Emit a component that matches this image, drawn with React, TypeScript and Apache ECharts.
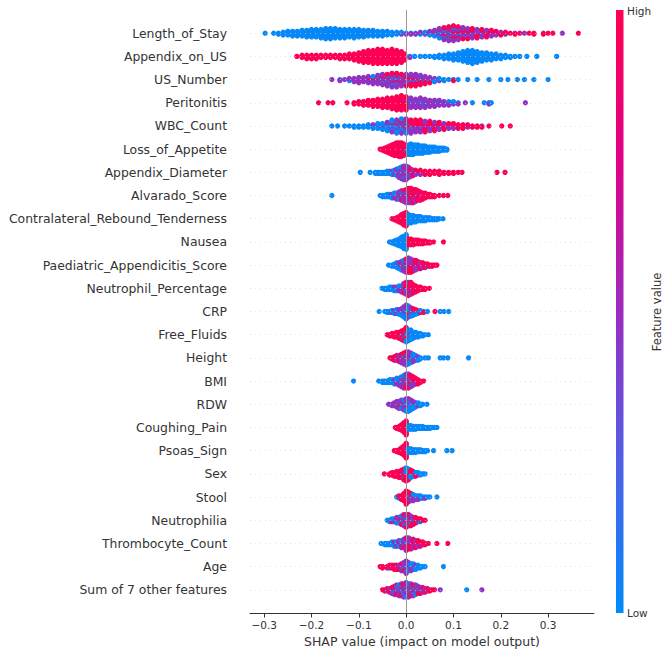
import React, { useEffect, useRef } from "react";
import * as echarts from "echarts";

// Each bin: [SHAP value, count of low-value points, count of mid-value points, count of high-value points]
type Bin = [number, number, number, number];

const FEATURES = [
  "Length_of_Stay", "Appendix_on_US", "US_Number", "Peritonitis", "WBC_Count",
  "Loss_of_Appetite", "Appendix_Diameter", "Alvarado_Score", "Contralateral_Rebound_Tenderness",
  "Nausea", "Paediatric_Appendicitis_Score", "Neutrophil_Percentage", "CRP", "Free_Fluids",
  "Height", "BMI", "RDW", "Coughing_Pain", "Psoas_Sign", "Sex", "Stool", "Neutrophilia",
  "Thrombocyte_Count", "Age", "Sum of 7 other features",
];

const X_TICKS = [-0.3, -0.2, -0.1, 0, 0.1, 0.2, 0.3];
const COLOR_LEVELS = [0.02, 0.47, 0.98];
const CMAP = ["#008bfb", "#5060e6", "#9b2cbf", "#e00086", "#ff0051"];

const lengthOfStay: Bin[] = [
  [-0.298, 1, 0, 0], [-0.28, 1, 0, 0], [-0.27, 2, 0, 0], [-0.26, 4, 0, 0], [-0.25, 5, 0, 0], [-0.24, 6, 0, 0],
  [-0.23, 6, 0, 0], [-0.22, 7, 0, 0], [-0.21, 8, 0, 0], [-0.2, 9, 0, 0], [-0.19, 9, 0, 0], [-0.18, 10, 0, 0],
  [-0.17, 12, 0, 0], [-0.16, 12, 0, 0], [-0.15, 11, 0, 0], [-0.14, 10, 0, 0], [-0.13, 10, 0, 0], [-0.12, 9, 0, 0],
  [-0.11, 10, 0, 0], [-0.1, 9, 0, 0], [-0.09, 8, 0, 0], [-0.08, 7, 0, 0], [-0.07, 7, 0, 0], [-0.06, 6, 0, 0],
  [-0.05, 6, 0, 0], [-0.04, 5, 0, 0], [-0.03, 4, 0, 0], [-0.02, 3, 0, 0], [-0.01, 2, 1, 0], [0.0, 1, 1, 0],
  [0.01, 1, 1, 0], [0.02, 1, 1, 0], [0.03, 1, 2, 0], [0.04, 2, 1, 0], [0.05, 2, 2, 1], [0.06, 3, 3, 1],
  [0.07, 4, 5, 2], [0.08, 4, 6, 4], [0.09, 4, 7, 5], [0.1, 3, 7, 7], [0.11, 3, 6, 6], [0.12, 2, 6, 5],
  [0.13, 2, 5, 5], [0.14, 1, 5, 5], [0.15, 1, 4, 5], [0.16, 1, 4, 4], [0.17, 0, 3, 5], [0.18, 0, 3, 4],
  [0.19, 0, 2, 3], [0.2, 0, 2, 2], [0.21, 0, 1, 2], [0.22, 0, 0, 1], [0.23, 0, 1, 1], [0.24, 0, 0, 1],
  [0.25, 0, 1, 0], [0.26, 0, 0, 1], [0.27, 0, 0, 2], [0.29, 0, 1, 1], [0.3, 0, 0, 1], [0.31, 0, 0, 1],
  [0.33, 0, 1, 0], [0.364, 0, 0, 1],
];

const appendixOnUS: Bin[] = [
  [-0.231, 0, 0, 1], [-0.22, 0, 0, 3], [-0.21, 0, 0, 4], [-0.2, 0, 0, 4], [-0.19, 0, 0, 4], [-0.18, 0, 0, 3],
  [-0.17, 0, 0, 3], [-0.16, 0, 0, 3], [-0.15, 0, 0, 3], [-0.14, 0, 0, 4], [-0.13, 0, 0, 4], [-0.12, 0, 0, 5],
  [-0.11, 0, 0, 6], [-0.1, 0, 0, 8], [-0.09, 0, 0, 10], [-0.08, 0, 0, 11], [-0.07, 0, 0, 12], [-0.06, 0, 0, 13],
  [-0.05, 0, 0, 13], [-0.04, 0, 0, 12], [-0.03, 0, 0, 13], [-0.02, 0, 0, 12], [-0.01, 0, 0, 10], [-0.003, 0, 0, 6],
  [0.008, 1, 1, 0], [0.018, 1, 0, 0], [0.03, 1, 0, 0], [0.04, 1, 0, 0], [0.05, 1, 0, 0], [0.06, 2, 0, 0],
  [0.07, 3, 0, 0], [0.08, 4, 0, 0], [0.09, 5, 0, 0], [0.1, 6, 0, 0], [0.11, 7, 0, 0], [0.12, 9, 0, 0],
  [0.13, 11, 0, 0], [0.14, 12, 0, 0], [0.15, 10, 0, 0], [0.16, 8, 0, 0], [0.17, 7, 0, 0], [0.18, 6, 0, 0],
  [0.19, 5, 0, 0], [0.2, 4, 0, 0], [0.21, 3, 0, 0], [0.22, 2, 0, 0], [0.23, 1, 0, 0], [0.24, 1, 0, 0],
  [0.255, 1, 0, 0], [0.276, 1, 0, 0], [0.318, 1, 0, 0],
];

const usNumber: Bin[] = [
  [-0.157, 0, 1, 0], [-0.14, 1, 1, 0], [-0.13, 0, 1, 0], [-0.12, 1, 2, 0], [-0.11, 1, 3, 0], [-0.1, 1, 4, 1],
  [-0.09, 1, 4, 0], [-0.08, 1, 5, 1], [-0.07, 2, 5, 1], [-0.06, 2, 6, 1], [-0.05, 2, 7, 2], [-0.04, 2, 7, 3],
  [-0.03, 3, 8, 3], [-0.02, 3, 7, 4], [-0.01, 2, 6, 4], [0.0, 2, 5, 5], [0.01, 1, 5, 6], [0.02, 1, 5, 6],
  [0.03, 1, 4, 5], [0.04, 1, 3, 4], [0.05, 2, 2, 2], [0.06, 3, 1, 0], [0.07, 2, 1, 0], [0.08, 2, 0, 0],
  [0.09, 1, 0, 0], [0.1, 1, 0, 1], [0.11, 1, 0, 0], [0.13, 1, 0, 0], [0.15, 1, 0, 0], [0.175, 1, 0, 0],
  [0.2, 1, 0, 0], [0.215, 1, 0, 0], [0.235, 1, 0, 0], [0.25, 1, 0, 0], [0.27, 1, 0, 0], [0.3, 1, 0, 0],
];

const peritonitis: Bin[] = [
  [-0.185, 0, 0, 1], [-0.165, 0, 0, 1], [-0.155, 0, 0, 1], [-0.125, 0, 0, 1], [-0.11, 0, 0, 2], [-0.1, 0, 0, 3],
  [-0.09, 0, 0, 4], [-0.08, 0, 0, 5], [-0.07, 0, 0, 6], [-0.06, 0, 0, 7], [-0.05, 0, 0, 8], [-0.04, 0, 0, 9],
  [-0.03, 0, 0, 10], [-0.02, 0, 0, 12], [-0.01, 0, 0, 13], [0.0, 0, 2, 10], [0.01, 1, 8, 0], [0.02, 0, 8, 0],
  [0.03, 1, 8, 0], [0.04, 1, 7, 0], [0.05, 0, 6, 0], [0.06, 1, 5, 0], [0.07, 1, 4, 0], [0.08, 1, 3, 0],
  [0.09, 2, 2, 0], [0.1, 2, 1, 0], [0.11, 1, 1, 0], [0.125, 0, 1, 0], [0.14, 1, 0, 0], [0.165, 1, 0, 0],
  [0.175, 1, 1, 0], [0.18, 1, 0, 0], [0.252, 0, 1, 0],
];

const wbcCount: Bin[] = [
  [-0.157, 1, 0, 0], [-0.145, 1, 0, 0], [-0.13, 1, 0, 0], [-0.12, 1, 0, 0], [-0.11, 2, 0, 0], [-0.1, 2, 0, 0],
  [-0.09, 2, 0, 0], [-0.08, 3, 0, 0], [-0.07, 3, 1, 0], [-0.06, 4, 1, 0], [-0.05, 5, 1, 0], [-0.04, 6, 2, 0],
  [-0.03, 7, 3, 1], [-0.02, 7, 4, 1], [-0.01, 6, 5, 2], [0.0, 4, 6, 3], [0.01, 1, 6, 5], [0.02, 0, 5, 6],
  [0.03, 0, 5, 6], [0.04, 0, 4, 6], [0.05, 0, 4, 5], [0.06, 0, 3, 5], [0.07, 0, 3, 4], [0.08, 0, 2, 4],
  [0.09, 0, 2, 3], [0.1, 0, 2, 3], [0.11, 0, 1, 3], [0.12, 0, 1, 3], [0.13, 0, 1, 2], [0.14, 0, 0, 2],
  [0.15, 0, 0, 2], [0.16, 0, 1, 1], [0.175, 0, 0, 1], [0.202, 0, 0, 1], [0.22, 0, 0, 1],
];

const lossOfAppetite: Bin[] = [
  [-0.055, 0, 0, 1], [-0.05, 0, 0, 2], [-0.045, 0, 0, 4], [-0.04, 0, 0, 6], [-0.035, 0, 0, 8], [-0.03, 0, 0, 10],
  [-0.025, 0, 0, 12], [-0.02, 0, 0, 13], [-0.015, 0, 0, 14], [-0.01, 0, 0, 14], [-0.005, 0, 0, 12], [0.0, 2, 0, 6],
  [0.005, 10, 0, 0], [0.01, 11, 0, 0], [0.015, 10, 0, 0], [0.02, 9, 0, 0], [0.025, 9, 0, 0], [0.03, 8, 0, 0],
  [0.035, 8, 0, 0], [0.04, 7, 0, 0], [0.045, 6, 0, 0], [0.05, 6, 0, 0], [0.055, 5, 0, 0], [0.06, 5, 0, 0],
  [0.065, 4, 0, 0], [0.07, 4, 0, 0], [0.075, 3, 0, 0], [0.08, 3, 0, 0], [0.086, 2, 0, 0],
];

const appendixDiameter: Bin[] = [
  [-0.097, 1, 0, 0], [-0.076, 1, 0, 0], [-0.065, 2, 0, 0], [-0.06, 2, 0, 0], [-0.055, 2, 0, 0], [-0.05, 2, 0, 0],
  [-0.045, 2, 0, 0], [-0.04, 3, 0, 0], [-0.035, 3, 0, 0], [-0.03, 3, 1, 0], [-0.025, 3, 2, 0], [-0.02, 3, 4, 0],
  [-0.015, 3, 6, 1], [-0.01, 3, 8, 1], [-0.005, 3, 9, 2], [0.0, 3, 9, 2], [0.005, 2, 7, 2], [0.01, 1, 5, 2],
  [0.015, 0, 3, 3], [0.02, 0, 2, 3], [0.03, 0, 2, 3], [0.04, 0, 1, 3], [0.05, 0, 1, 3], [0.06, 0, 0, 3],
  [0.07, 0, 1, 3], [0.08, 0, 0, 2], [0.09, 0, 0, 2], [0.1, 0, 0, 2], [0.11, 0, 0, 1], [0.118, 0, 0, 1],
  [0.192, 0, 0, 1], [0.209, 0, 0, 1],
];

const alvaradoScore: Bin[] = [
  [-0.157, 1, 0, 0], [-0.055, 1, 0, 0], [-0.05, 2, 0, 0], [-0.045, 2, 0, 0], [-0.04, 3, 0, 0], [-0.035, 3, 0, 0],
  [-0.03, 3, 1, 0], [-0.025, 3, 2, 0], [-0.02, 2, 3, 1], [-0.015, 2, 4, 1], [-0.01, 2, 5, 2], [-0.005, 2, 6, 2],
  [0.0, 2, 6, 4], [0.005, 1, 5, 7], [0.01, 0, 4, 9], [0.015, 0, 3, 9], [0.02, 0, 3, 8], [0.025, 0, 2, 7],
  [0.03, 0, 2, 6], [0.035, 0, 1, 5], [0.04, 0, 1, 4], [0.045, 0, 0, 3], [0.05, 0, 0, 3], [0.055, 0, 0, 2],
  [0.06, 0, 0, 2], [0.07, 0, 0, 1], [0.079, 0, 0, 1], [0.088, 0, 0, 1],
];

const contralateral: Bin[] = [
  [-0.03, 0, 0, 1], [-0.025, 0, 0, 2], [-0.02, 0, 0, 4], [-0.015, 0, 0, 6], [-0.01, 0, 0, 9], [-0.005, 0, 0, 12],
  [0.0, 0, 0, 14], [0.005, 9, 0, 0], [0.01, 8, 0, 0], [0.015, 7, 0, 0], [0.02, 6, 0, 0], [0.025, 5, 0, 0],
  [0.03, 5, 0, 0], [0.035, 4, 0, 0], [0.04, 4, 0, 0], [0.045, 3, 0, 0], [0.05, 3, 0, 0], [0.055, 2, 0, 0],
  [0.06, 2, 0, 0], [0.065, 2, 0, 0], [0.07, 1, 0, 0], [0.078, 1, 0, 0],
];

const nausea: Bin[] = [
  [-0.035, 1, 0, 0], [-0.03, 2, 0, 0], [-0.025, 4, 0, 0], [-0.02, 6, 0, 0], [-0.015, 8, 0, 0], [-0.01, 11, 0, 0],
  [-0.005, 14, 0, 0], [0.0, 17, 0, 0], [0.005, 0, 0, 7], [0.01, 0, 0, 7], [0.015, 0, 0, 6], [0.02, 0, 0, 5],
  [0.025, 0, 0, 5], [0.03, 0, 0, 4], [0.035, 0, 0, 4], [0.04, 0, 0, 3], [0.045, 0, 0, 2], [0.05, 0, 0, 2],
  [0.058, 0, 0, 1], [0.079, 0, 0, 1],
];

const pediatricScore: Bin[] = [
  [-0.037, 1, 0, 0], [-0.03, 2, 0, 0], [-0.025, 3, 0, 0], [-0.02, 4, 1, 0], [-0.015, 4, 2, 0], [-0.01, 4, 3, 1],
  [-0.005, 3, 5, 2], [0.0, 2, 7, 3], [0.005, 1, 7, 5], [0.01, 0, 6, 6], [0.015, 0, 5, 5], [0.02, 0, 4, 5],
  [0.025, 0, 3, 4], [0.03, 0, 2, 4], [0.035, 0, 2, 3], [0.04, 0, 1, 3], [0.045, 0, 1, 2], [0.05, 0, 0, 2],
  [0.055, 0, 0, 2], [0.06, 0, 0, 1], [0.065, 0, 0, 1],
];

const neutrophilPct: Bin[] = [
  [-0.051, 1, 0, 0], [-0.045, 2, 0, 0], [-0.04, 2, 0, 0], [-0.035, 3, 0, 0], [-0.03, 3, 0, 0], [-0.025, 3, 1, 0],
  [-0.02, 3, 1, 0], [-0.015, 3, 2, 0], [-0.01, 2, 3, 1], [-0.005, 2, 4, 3], [0.0, 1, 4, 6], [0.005, 0, 4, 8],
  [0.01, 0, 3, 8], [0.015, 0, 2, 6], [0.02, 0, 1, 5], [0.025, 0, 0, 4], [0.03, 0, 0, 3], [0.035, 0, 0, 2],
  [0.04, 0, 0, 2], [0.049, 0, 0, 1],
];

const crp: Bin[] = [
  [-0.057, 1, 0, 0], [-0.045, 1, 0, 0], [-0.04, 2, 0, 0], [-0.035, 2, 0, 0], [-0.03, 2, 1, 0], [-0.025, 3, 1, 0],
  [-0.02, 3, 2, 0], [-0.015, 4, 2, 0], [-0.01, 5, 3, 0], [-0.005, 7, 4, 1], [0.0, 9, 5, 2], [0.005, 7, 4, 2],
  [0.01, 5, 3, 2], [0.015, 4, 2, 2], [0.02, 3, 1, 2], [0.025, 2, 1, 1], [0.03, 2, 0, 1], [0.037, 1, 0, 1],
  [0.045, 1, 0, 0], [0.061, 0, 0, 1], [0.072, 1, 0, 0], [0.08, 1, 0, 0], [0.09, 1, 0, 0],
];

const freeFluids: Bin[] = [
  [-0.04, 0, 0, 1], [-0.035, 0, 0, 2], [-0.03, 0, 0, 3], [-0.025, 0, 0, 4], [-0.02, 0, 0, 5], [-0.015, 0, 0, 6],
  [-0.01, 1, 0, 7], [-0.005, 2, 0, 8], [0.0, 5, 0, 8], [0.005, 8, 0, 2], [0.01, 8, 0, 1], [0.015, 6, 0, 0],
  [0.02, 5, 0, 0], [0.025, 4, 0, 0], [0.03, 3, 0, 0], [0.035, 2, 0, 0], [0.04, 1, 0, 0], [0.047, 1, 0, 0],
];

const height: Bin[] = [
  [-0.034, 0, 0, 1], [-0.03, 0, 0, 2], [-0.025, 0, 1, 3], [-0.02, 0, 2, 3], [-0.015, 0, 3, 3], [-0.01, 1, 4, 3],
  [-0.005, 1, 6, 3], [0.0, 2, 7, 3], [0.005, 3, 6, 2], [0.01, 4, 4, 1], [0.015, 4, 3, 0], [0.02, 3, 2, 0],
  [0.025, 3, 1, 0], [0.03, 2, 0, 0], [0.04, 1, 0, 0], [0.047, 1, 0, 0], [0.072, 1, 0, 0], [0.079, 1, 0, 0],
  [0.088, 1, 0, 0], [0.132, 1, 0, 0],
];

const bmi: Bin[] = [
  [-0.111, 1, 0, 0], [-0.058, 1, 0, 0], [-0.05, 2, 0, 0], [-0.045, 2, 0, 0], [-0.04, 2, 0, 0], [-0.035, 3, 0, 0],
  [-0.03, 3, 0, 0], [-0.025, 3, 1, 0], [-0.02, 3, 2, 0], [-0.015, 3, 3, 0], [-0.01, 3, 4, 1], [-0.005, 3, 5, 2],
  [0.0, 3, 5, 3], [0.005, 2, 5, 4], [0.01, 1, 4, 4], [0.015, 0, 3, 4], [0.02, 0, 2, 3], [0.025, 0, 1, 3],
  [0.03, 0, 0, 2], [0.037, 0, 0, 1],
];

const rdw: Bin[] = [
  [-0.037, 0, 1, 0], [-0.03, 0, 2, 0], [-0.025, 0, 3, 0], [-0.02, 0, 4, 1], [-0.015, 1, 4, 1], [-0.01, 2, 4, 1],
  [-0.005, 3, 4, 1], [0.0, 5, 4, 1], [0.005, 6, 3, 1], [0.01, 6, 2, 0], [0.015, 4, 2, 0], [0.02, 3, 1, 0],
  [0.025, 2, 1, 0], [0.03, 2, 0, 0], [0.035, 1, 0, 0], [0.044, 1, 0, 0],
];

const coughingPain: Bin[] = [
  [-0.023, 0, 0, 1], [-0.02, 0, 0, 2], [-0.015, 0, 0, 4], [-0.01, 0, 0, 7], [-0.005, 0, 0, 11], [0.0, 0, 0, 16],
  [0.005, 5, 0, 0], [0.01, 5, 0, 0], [0.015, 4, 0, 0], [0.02, 4, 0, 0], [0.025, 3, 0, 0], [0.03, 3, 0, 0],
  [0.035, 3, 0, 0], [0.04, 2, 0, 0], [0.045, 2, 0, 0], [0.05, 2, 0, 0], [0.055, 1, 0, 0], [0.06, 1, 0, 0],
  [0.065, 1, 0, 0],
];

const psoasSign: Bin[] = [
  [-0.025, 0, 0, 1], [-0.02, 0, 0, 2], [-0.015, 0, 0, 4], [-0.01, 0, 0, 7], [-0.005, 0, 0, 11], [0.0, 1, 0, 16],
  [0.005, 5, 0, 0], [0.01, 5, 0, 0], [0.015, 4, 0, 0], [0.02, 4, 0, 0], [0.025, 3, 0, 0], [0.03, 3, 0, 0],
  [0.035, 2, 0, 0], [0.04, 2, 0, 0], [0.045, 1, 0, 0], [0.058, 1, 0, 0], [0.086, 1, 0, 0], [0.097, 1, 0, 0],
];

const sex: Bin[] = [
  [-0.046, 0, 0, 1], [-0.035, 0, 0, 2], [-0.03, 0, 0, 3], [-0.025, 0, 0, 4], [-0.02, 0, 0, 5], [-0.015, 0, 0, 6],
  [-0.01, 0, 0, 7], [-0.005, 2, 0, 8], [0.0, 6, 0, 6], [0.005, 5, 0, 5], [0.01, 3, 0, 4], [0.015, 2, 0, 3],
  [0.02, 2, 0, 2], [0.025, 2, 0, 1], [0.03, 2, 0, 0], [0.035, 1, 0, 0], [0.04, 1, 0, 0],
];

const stool: Bin[] = [
  [-0.02, 1, 0, 0], [-0.015, 1, 0, 2], [-0.01, 0, 0, 4], [-0.005, 0, 0, 7], [0.0, 0, 0, 12], [0.005, 1, 2, 6],
  [0.01, 1, 3, 3], [0.015, 2, 3, 1], [0.02, 2, 2, 0], [0.025, 2, 2, 0], [0.03, 2, 1, 0], [0.035, 2, 0, 0],
  [0.04, 1, 1, 0], [0.045, 1, 0, 0], [0.05, 1, 0, 0], [0.065, 1, 0, 0],
];

const neutrophilia: Bin[] = [
  [-0.04, 1, 0, 0], [-0.035, 2, 0, 0], [-0.03, 2, 0, 1], [-0.025, 2, 1, 0], [-0.02, 2, 2, 1], [-0.015, 2, 2, 1],
  [-0.01, 3, 2, 2], [-0.005, 3, 3, 3], [0.0, 3, 3, 4], [0.005, 2, 3, 4], [0.01, 2, 2, 4], [0.015, 1, 2, 3],
  [0.02, 1, 1, 3], [0.025, 0, 1, 2], [0.03, 1, 0, 2], [0.035, 0, 0, 1], [0.04, 0, 0, 1],
];

const thrombocyteCount: Bin[] = [
  [-0.053, 1, 0, 0], [-0.045, 2, 0, 0], [-0.04, 2, 0, 0], [-0.035, 2, 0, 0], [-0.03, 3, 0, 0], [-0.025, 3, 1, 0],
  [-0.02, 2, 2, 0], [-0.015, 2, 2, 1], [-0.01, 2, 3, 1], [-0.005, 1, 4, 2], [0.0, 1, 6, 3], [0.005, 0, 5, 4],
  [0.01, 0, 4, 4], [0.015, 0, 3, 4], [0.02, 0, 2, 4], [0.025, 0, 2, 3], [0.03, 0, 1, 3], [0.035, 0, 1, 2],
  [0.04, 0, 0, 2], [0.047, 0, 0, 1], [0.065, 0, 0, 1], [0.088, 0, 0, 1],
];

const age: Bin[] = [
  [-0.055, 0, 0, 1], [-0.05, 0, 0, 2], [-0.04, 0, 0, 2], [-0.035, 0, 1, 2], [-0.03, 0, 0, 3], [-0.025, 0, 1, 3],
  [-0.02, 0, 1, 3], [-0.015, 0, 2, 2], [-0.01, 1, 3, 2], [-0.005, 1, 4, 2], [0.0, 2, 7, 1], [0.005, 3, 4, 0],
  [0.01, 3, 3, 0], [0.015, 3, 2, 0], [0.02, 3, 1, 0], [0.025, 3, 0, 0], [0.03, 2, 0, 0], [0.035, 1, 0, 0],
  [0.04, 1, 0, 0], [0.079, 1, 0, 0],
];

const otherFeatures: Bin[] = [
  [-0.05, 0, 0, 1], [-0.045, 0, 0, 2], [-0.04, 0, 1, 2], [-0.035, 0, 2, 2], [-0.03, 1, 3, 2], [-0.025, 2, 4, 2],
  [-0.02, 2, 5, 2], [-0.015, 3, 5, 2], [-0.01, 3, 5, 3], [-0.005, 3, 6, 3], [0.0, 4, 6, 3], [0.005, 4, 5, 3],
  [0.01, 3, 5, 3], [0.015, 3, 4, 3], [0.02, 3, 4, 2], [0.025, 2, 3, 2], [0.03, 2, 2, 2], [0.035, 1, 2, 2],
  [0.04, 1, 1, 2], [0.045, 0, 1, 2], [0.05, 0, 1, 1], [0.055, 0, 0, 1], [0.06, 0, 0, 1], [0.072, 0, 1, 0],
  [0.128, 1, 0, 0], [0.16, 0, 1, 0],
];

const ROWS: Bin[][] = [
  lengthOfStay, appendixOnUS, usNumber, peritonitis, wbcCount, lossOfAppetite, appendixDiameter,
  alvaradoScore, contralateral, nausea, pediatricScore, neutrophilPct, crp, freeFluids, height, bmi,
  rdw, coughingPain, psoasSign, sex, stool, neutrophilia, thrombocyteCount, age, otherFeatures,
];

// beeswarm layout (as in shap): alternate points up and down within each bin
function buildPoints(): number[][] {
  const pts: number[][] = [];
  ROWS.forEach((bins, row) => {
    const kmax = Math.max(...bins.map((b) => Math.ceil((b[1] + b[2] + b[3] - 1) / 2)));
    const scale = 0.36 / (kmax + 1);
    bins.forEach((b) => {
      const items: { p: number; c: number }[] = [];
      for (let c = 0; c < 3; c++) {
        const k = b[c + 1];
        for (let j = 0; j < k; j++) items.push({ p: (j + 0.5) / k, c: COLOR_LEVELS[c] });
      }
      items.sort((a, d) => a.p - d.p);
      items.forEach((it, layer) => {
        const off = Math.ceil(layer / 2) * ((layer % 2) * 2 - 1) * scale;
        pts.push([b[0], row + off, it.c]);
      });
    });
  });
  return pts;
}

const FONT = "DejaVu Sans";

export default function App() {
  const ref = useRef<HTMLDivElement>(null);
  useEffect(() => {
    document.body.style.margin = "0";
    if (!ref.current) return;
    const chart = echarts.init(ref.current, null, { renderer: "svg" });
    const rowIdx = FEATURES.map((_, i) => i);
    const option: any = {
      animation: false,
      backgroundColor: "#ffffff",
      textStyle: { fontFamily: FONT },
      grid: { left: 250, right: 75, top: 10, bottom: 40, containLabel: false },
      xAxis: {
        type: "value",
        min: -0.33,
        max: 0.397,
        name: "SHAP value (impact on model output)",
        nameLocation: "middle",
        nameGap: 16,
        nameTextStyle: { color: "#333333", fontSize: 12.5, fontFamily: FONT },
        axisLine: { show: true, onZero: false, lineStyle: { color: "#333333", width: 1 } },
        axisTick: { show: true, length: 4.5, customValues: X_TICKS, lineStyle: { color: "#333333" } },
        axisLabel: {
          customValues: X_TICKS,
          color: "#333333",
          fontSize: 10.5,
          fontFamily: FONT,
          margin: 6,
          formatter: (v: number) => (v < -1e-9 ? "\u2212" : "") + Math.abs(v).toFixed(1),
        },
        splitLine: { show: false },
      },
      yAxis: {
        type: "value",
        min: -1,
        max: 25,
        inverse: true,
        axisLine: { show: false },
        axisTick: { show: false },
        splitLine: { show: false },
        axisLabel: {
          customValues: rowIdx,
          color: "#333333",
          fontSize: 12.4,
          fontFamily: FONT,
          margin: 23,
          formatter: (v: number) => FEATURES[Math.round(v)] ?? "",
        },
      },
      visualMap: {
        show: false,
        type: "continuous",
        dimension: 2,
        min: 0,
        max: 1,
        seriesIndex: 1,
        inRange: { color: CMAP },
      },
      series: [
        {
          type: "scatter",
          data: [],
          silent: true,
          z: 1,
          markLine: {
            silent: true,
            symbol: ["none", "none"],
            label: { show: false },
            animation: false,
            data: [
              ...rowIdx.map((i) => ({
                yAxis: i,
                lineStyle: { color: "#d4d4d4", width: 0.6, type: [1, 4] },
              })),
              { xAxis: 0, lineStyle: { color: "#999999", width: 1, type: "solid" } },
            ],
          },
        },
        {
          type: "scatter",
          data: buildPoints(),
          symbolSize: 5.3,
          z: 2,
          progressive: 0,
          large: false,
          silent: true,
          itemStyle: { opacity: 1 },
        },
      ],
      graphic: [
        {
          type: "rect",
          shape: { x: 616, y: 10, width: 7.5, height: 603 },
          style: {
            fill: new echarts.graphic.LinearGradient(0, 0, 0, 1, [
              { offset: 0, color: CMAP[4] },
              { offset: 0.25, color: CMAP[3] },
              { offset: 0.5, color: CMAP[2] },
              { offset: 0.75, color: CMAP[1] },
              { offset: 1, color: CMAP[0] },
            ]),
          },
        },
        {
          type: "text",
          x: 627,
          y: 11,
          style: { text: "High", fill: "#333333", fontSize: 10.5, fontFamily: FONT, align: "left", verticalAlign: "middle" },
        },
        {
          type: "text",
          x: 627,
          y: 613,
          style: { text: "Low", fill: "#333333", fontSize: 10.5, fontFamily: FONT, align: "left", verticalAlign: "middle" },
        },
        {
          type: "text",
          x: 657,
          y: 312,
          rotation: Math.PI / 2,
          style: { text: "Feature value", fill: "#333333", fontSize: 11.5, fontFamily: FONT, align: "center", verticalAlign: "middle" },
        },
      ],
    };
    chart.setOption(option);
    return () => chart.dispose();
  }, []);
  return <div ref={ref} style={{ width: 669, height: 653 }} />;
}
